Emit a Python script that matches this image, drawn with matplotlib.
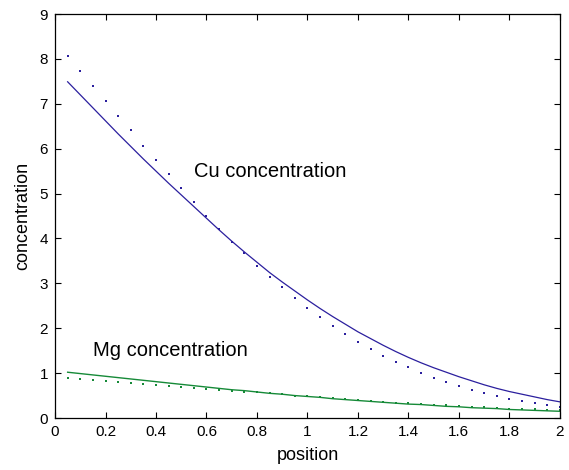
import matplotlib
matplotlib.use('Agg')
import matplotlib.pyplot as plt

plt.rcParams['font.family'] = ['Liberation Sans', 'DejaVu Sans']

# позиции (x = 0.05 ... 2.0 шаг 0.05)
position = [0.05, 0.10, 0.15, 0.20, 0.25, 0.30, 0.35, 0.40, 0.45, 0.50,
            0.55, 0.60, 0.65, 0.70, 0.75, 0.80, 0.85, 0.90, 0.95, 1.00,
            1.05, 1.10, 1.15, 1.20, 1.25, 1.30, 1.35, 1.40, 1.45, 1.50,
            1.55, 1.60, 1.65, 1.70, 1.75, 1.80, 1.85, 1.90, 1.95, 2.00]

# Cu - точки
cu_points = [8.06, 7.73, 7.39, 7.07, 6.73, 6.41, 6.07, 5.75, 5.43, 5.12,
             4.81, 4.51, 4.21, 3.93, 3.67, 3.39, 3.15, 2.91, 2.68, 2.46,
             2.24, 2.05, 1.87, 1.70, 1.54, 1.39, 1.25, 1.13, 1.01, 0.90,
             0.80, 0.71, 0.63, 0.56, 0.49, 0.43, 0.38, 0.33, 0.28, 0.245]

# Cu - линия
cu_line = [7.49, 7.20, 6.91, 6.62, 6.33, 6.05, 5.77, 5.50, 5.23, 4.97,
           4.71, 4.45, 4.19, 3.94, 3.70, 3.47, 3.24, 3.03, 2.83, 2.63,
           2.44, 2.26, 2.09, 1.92, 1.77, 1.62, 1.48, 1.35, 1.23, 1.12,
           1.02, 0.92, 0.83, 0.74, 0.66, 0.59, 0.53, 0.47, 0.41, 0.36]

# Mg - точки
mg_points = [0.90, 0.87, 0.85, 0.83, 0.80, 0.78, 0.76, 0.74, 0.71, 0.69,
             0.67, 0.65, 0.63, 0.61, 0.59, 0.57, 0.55, 0.53, 0.50, 0.48,
             0.46, 0.44, 0.42, 0.40, 0.38, 0.36, 0.34, 0.33, 0.31, 0.29,
             0.28, 0.26, 0.25, 0.24, 0.22, 0.21, 0.20, 0.19, 0.18, 0.17]

# Mg - линия
mg_line = [1.02, 0.99, 0.96, 0.93, 0.90, 0.87, 0.84, 0.81, 0.78, 0.75,
           0.72, 0.69, 0.66, 0.63, 0.61, 0.58, 0.55, 0.53, 0.50, 0.48,
           0.46, 0.43, 0.41, 0.39, 0.37, 0.35, 0.33, 0.31, 0.30, 0.28,
           0.26, 0.25, 0.23, 0.22, 0.21, 0.19, 0.18, 0.17, 0.16, 0.15]

x_ticks = [0, 0.2, 0.4, 0.6, 0.8, 1, 1.2, 1.4, 1.6, 1.8, 2]
x_labels = ['0', '0.2', '0.4', '0.6', '0.8', '1', '1.2', '1.4', '1.6', '1.8', '2']
y_ticks = [0, 1, 2, 3, 4, 5, 6, 7, 8, 9]

blue = '#2b1f9e'
green = '#168a38'

fig = plt.figure(figsize=(5.69, 4.70), dpi=100)
ax = fig.add_axes([0.0967, 0.1106, 0.8873, 0.8596])

ax.plot(position, cu_line, color=blue, lw=0.9)
ax.plot(position, cu_points, ls='none', marker='s', ms=1.7, mew=0, color=blue)
ax.plot(position, mg_line, color=green, lw=1.0)
ax.plot(position, mg_points, ls='none', marker='s', ms=1.7, mew=0, color=green)

ax.text(0.55, 5.5, 'Cu concentration', fontsize=14.5, va='center')
ax.text(0.15, 1.5, 'Mg concentration', fontsize=14.5, va='center')

ax.set_xlim(0, 2)
ax.set_ylim(0, 9)
ax.set_xticks(x_ticks)
ax.set_xticklabels(x_labels)
ax.set_yticks(y_ticks)
ax.tick_params(direction='in', top=True, right=True, length=4, width=0.8,
               labelsize=11, pad=5)
for s in ax.spines.values():
    s.set_linewidth(0.9)

ax.set_xlabel('position', fontsize=13, labelpad=6)
ax.set_ylabel('concentration', fontsize=13, labelpad=6)

plt.savefig('out.png', dpi=100)
